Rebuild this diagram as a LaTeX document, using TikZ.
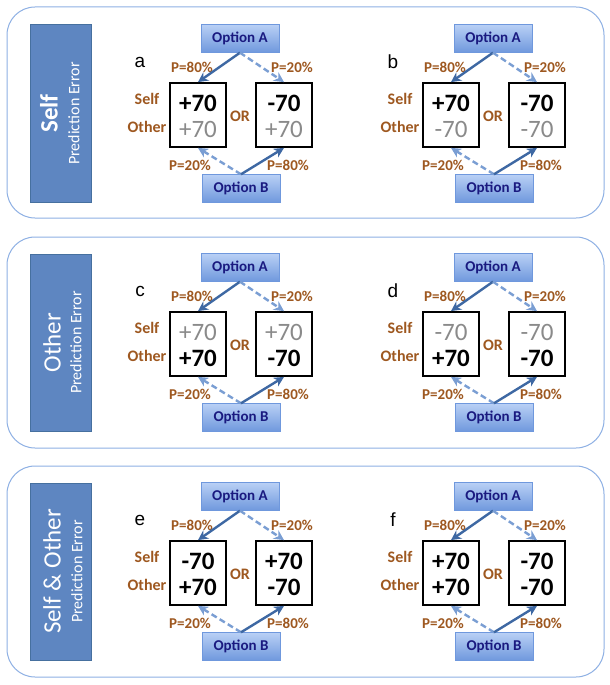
\documentclass[tikz,border=0pt]{standalone}
\usepackage{fontspec}
\setmainfont{Carlito}
\newfontfamily\arialf{Liberation Sans}
\usetikzlibrary{arrows.meta}
\definecolor{panelline}{HTML}{8EB0E4}
\definecolor{labelfill}{HTML}{5E86C1}
\definecolor{labeldraw}{HTML}{46709F}
\definecolor{optTop}{HTML}{B9D0F5}
\definecolor{optBot}{HTML}{6F98DD}
\definecolor{opttext}{HTML}{1A1A80}
\definecolor{brownlab}{HTML}{9E5820}
\definecolor{solidarr}{HTML}{3E68A3}
\definecolor{dasharr}{HTML}{7A9ED3}
\definecolor{grayval}{HTML}{8A8A8A}
\newcommand\bv[1]{\textcolor{black}{\bfseries #1}}
\newcommand\gv[1]{\textcolor{grayval}{#1}}
\tikzset{
  panelbox/.style={draw=panelline, line width=1pt, rounded corners=28pt},
  labelbox/.style={draw=labeldraw, fill=labelfill, line width=1pt, minimum width=61pt, minimum height=177pt, inner sep=0pt},
  titletext/.style={text=white, font=\fontsize{25}{27}\selectfont, rotate=90, inner sep=0pt},
  subtext/.style={text=white, font=\fontsize{16}{18}\selectfont, rotate=90, inner sep=0pt},
  optbox/.style={draw=optBot, top color=optTop, bottom color=optBot, minimum width=78pt, minimum height=28pt, inner sep=0pt, text=opttext, font=\fontsize{15}{17}\selectfont\bfseries},
  valbox/.style={draw=black, line width=1.8pt, minimum width=56pt, minimum height=64pt, inner sep=0pt},
  vtext/.style={font=\fontsize{25}{27}\selectfont, inner sep=0pt},
  plab/.style={text=brownlab, font=\fontsize{15}{17}\selectfont\bfseries, inner sep=0pt},
  sidelab/.style={text=brownlab, font=\fontsize{16}{18}\selectfont\bfseries, inner sep=0pt},
  letterlab/.style={font=\arialf\fontsize{19}{21}\selectfont, inner sep=0pt},
  solidarrow/.style={draw=solidarr, line width=2.4pt, -{Stealth[length=10pt,width=10pt]}},
  dashedarrow/.style={draw=dasharr, line width=2.4pt, dash pattern=on 6pt off 3.5pt, -{Stealth[length=10pt,width=10pt]}}
}
\newcommand\drawpanel[7]{%
\begin{scope}[shift={(#1,#2)}]
  \node[optbox] (#3A) at (240,38.5) {Option A};
  \node[optbox] (#3B) at (241,188.5) {Option B};
  \node[valbox] (#3L) at (198,115) {};
  \node[valbox] (#3R) at (284,115) {};
  \node[vtext] (#3lt) at (198,103) {#4};
  \node[vtext] (#3lb) at (198,129) {#5};
  \node[vtext] (#3rt) at (284,103) {#6};
  \node[vtext] (#3rb) at (284,129) {#7};
  \node[letterlab] (#3let) at (140,62) {#3};
  \node[sidelab] (#3self) at (147,99) {Self};
  \node[sidelab] (#3other) at (147,127) {Other};
  \node[sidelab] (#3or) at (240,116) {OR};
  \node[plab] (#3p1) at (192,67) {P=80\%};
  \node[plab] (#3p2) at (292,67) {P=20\%};
  \node[plab] (#3p3) at (190,165) {P=20\%};
  \node[plab] (#3p4) at (288,165) {P=80\%};
  \draw[solidarrow] (#3A.south) -- (#3L.north);
  \draw[dashedarrow] (#3A.south) -- (#3R.north);
  \draw[dashedarrow] (#3B.north) -- (#3L.south);
  \draw[solidarrow] (#3B.north) -- (#3R.south);
\end{scope}}
\begin{document}
\begin{tikzpicture}[x=1pt,y=-1pt]
  \useasboundingbox (0,0) rectangle (610,685);
  \fill[white] (0,0) rectangle (610,685);
  % outer panels
  \draw[panelbox] (7,7) rectangle (604,218);
  \draw[panelbox] (7,237) rectangle (604,448);
  \draw[panelbox] (7,466) rectangle (604,677);
  % side labels
  \node[labelbox] (lab1) at (60.5,113.5) {};
  \node[titletext, font=\fontsize{25}{27}\selectfont\bfseries] (t1) at (49,113.5) {Self};
  \node[subtext] (s1) at (74,113.5) {Prediction Error};
  \node[labelbox] (lab2) at (60.5,342.5) {};
  \node[titletext] (t2) at (52,342.5) {Other};
  \node[subtext] (s2) at (76,342.5) {Prediction Error};
  \node[labelbox] (lab3) at (60.5,571.5) {};
  \node[titletext] (t3) at (52,571.5) {Self \& Other};
  \node[subtext] (s3) at (77,571.5) {Prediction Error};
  % panels
  \drawpanel{0}{0}{a}{\bv{+70}}{\gv{+70}}{\bv{-70}}{\gv{+70}}
  \drawpanel{253}{0}{b}{\bv{+70}}{\gv{-70}}{\bv{-70}}{\gv{-70}}
  \drawpanel{0}{229}{c}{\gv{+70}}{\bv{+70}}{\gv{+70}}{\bv{-70}}
  \drawpanel{253}{229}{d}{\gv{-70}}{\bv{+70}}{\gv{-70}}{\bv{-70}}
  \drawpanel{0}{458}{e}{\bv{-70}}{\bv{+70}}{\bv{+70}}{\bv{-70}}
  \drawpanel{253}{458}{f}{\bv{+70}}{\bv{+70}}{\bv{-70}}{\bv{-70}}
\end{tikzpicture}
\end{document}
